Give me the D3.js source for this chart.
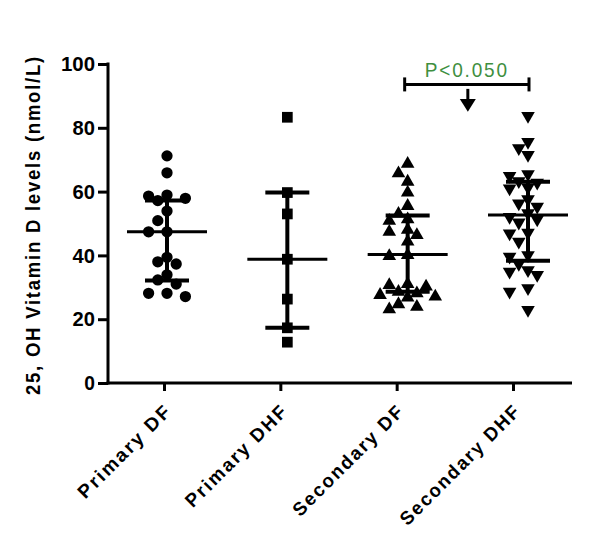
<!DOCTYPE html>
<html><head><meta charset="utf-8">
<script src="https://cdn.jsdelivr.net/npm/d3@7"></script>
<style>
html,body{margin:0;padding:0;background:#fff;}
svg text{font-family:"Liberation Sans",Arial,sans-serif;}
</style></head>
<body><svg id="chart" width="600" height="548"></svg>
<script>
const categories = ["Primary DF","Primary DHF","Secondary DF","Secondary DHF"];
const primaryDF = [71.2,65.9,58.9,58.6,57.9,57.2,53.9,50.9,47.4,47.4,39.4,38.0,37.3,33.9,32.3,31.0,28.1,28.1,27.1];
const primaryDHF = [83.3,59.7,53.0,38.8,26.3,17.3,12.8];
const secondaryDF = [68.7,65.7,63.1,59.7,55.5,53.0,51.3,50.8,48.0,47.4,46.4,44.3,40.1,39.8,31.0,30.7,30.2,28.6,28.1,27.6,27.1,26.8,24.7,23.9,23.1];
const secondaryDHF = [83.7,75.6,73.6,71.5,65.5,64.9,63.3,62.8,61.3,61.0,57.6,56.3,55.3,53.2,52.1,51.3,50.3,47.1,46.9,44.3,40.1,39.6,37.3,35.4,34.9,33.9,29.7,28.6,22.9];
const medians = [47.4,38.8,40.3,52.7];
const lowerBars = [32.1,17.3,28.6,38.3];
const upperBars = [57.2,59.7,52.5,63.1];
const yTicks = [0,20,40,60,80,100];
const yTitle = "25, OH Vitamin D levels (nmol/L)";
const pLabel = "P<0.050";
const series = [primaryDF, primaryDHF, secondaryDF, secondaryDHF];

const svg = d3.select("#chart");
const y = d3.scaleLinear().domain([0,100]).range([383,64]);
const xAxisScale = d3.scalePoint().domain(categories).range([164,513]);
const xMarks = d3.scalePoint().domain(categories).range([167,528]);

const symbols = [
  {type:d3.symbolCircle,size:100,rot:0},
  {type:d3.symbolSquare,size:115,rot:0},
  {type:d3.symbolTriangle,size:80,rot:0},
  {type:d3.symbolTriangle,size:80,rot:180}
];

// simple beeswarm layout
function swarm(vals, cx){
  const step = 9.2, minD = 10;
  const sorted = vals.slice().sort((a,b)=>b-a);
  const placed = [];
  const cand = [0,-1,1,-2,2,-3,3,-4,4];
  sorted.forEach(v=>{
    const py = y(v);
    for(const k of cand){
      const px = cx + k*step;
      if(placed.every(p=>Math.hypot(p.x-px,p.y-py)>=minD)){placed.push({x:px,y:py});break;}
    }
  });
  return placed;
}

// points
series.forEach((vals,i)=>{
  const pts = swarm(vals, xMarks(categories[i]));
  const s = symbols[i];
  svg.append("g").selectAll("path").data(pts).join("path")
    .attr("d", d3.symbol().type(s.type).size(s.size))
    .attr("transform", d=>`translate(${d.x},${d.y}) rotate(${s.rot})`)
    .attr("fill","#000");
});

// medians and bars
const gb = svg.append("g").attr("stroke","#000");
categories.forEach((c,i)=>{
  const cx = xMarks(c);
  gb.append("line").attr("x1",cx).attr("x2",cx).attr("y1",y(upperBars[i])).attr("y2",y(lowerBars[i])).attr("stroke-width",4);
  [upperBars[i],lowerBars[i]].forEach(v=>{
    gb.append("line").attr("x1",cx-22).attr("x2",cx+22).attr("y1",y(v)).attr("y2",y(v)).attr("stroke-width",4);
  });
  gb.append("line").attr("x1",cx-40).attr("x2",cx+40).attr("y1",y(medians[i])).attr("y2",y(medians[i])).attr("stroke-width",3);
});

// y axis
const ya = svg.append("g").attr("transform","translate(108,0)")
  .call(d3.axisLeft(y).tickValues(yTicks).tickSize(10).tickPadding(3));
ya.select(".domain").remove();
ya.selectAll(".tick line").attr("stroke","#000").attr("stroke-width",3);
ya.selectAll(".tick text").attr("font-size",21).attr("fill","#000")
  .style("font-family","'Liberation Sans',Arial,sans-serif").style("font-weight","bold")
  .attr("textLength",function(d){return String(d).length*11.7-1;}).attr("lengthAdjust","spacingAndGlyphs");
svg.append("line").attr("x1",108).attr("x2",108).attr("y1",y(100)-1.5).attr("y2",y(0)+1.5).attr("stroke","#000").attr("stroke-width",3);

// x axis
const xa = svg.append("g").attr("transform","translate(0,383)")
  .call(d3.axisBottom(xAxisScale).tickSize(8).tickFormat(""));
xa.select(".domain").remove();
xa.selectAll(".tick line").attr("stroke","#000").attr("stroke-width",3);
svg.append("line").attr("x1",106.5).attr("x2",572).attr("y1",383).attr("y2",383).attr("stroke","#000").attr("stroke-width",3);
categories.forEach(c=>{
  svg.append("text").attr("transform",`translate(${xAxisScale(c)+9},${412}) rotate(-45)`)
    .attr("text-anchor","end").attr("font-size",19).style("font-weight","bold").attr("fill","#000")
    .attr("textLength",c.length*12.6-2).attr("lengthAdjust","spacingAndGlyphs")
    .attr("letter-spacing","2px").text(c);
});

// y title
svg.append("text").attr("transform",`translate(40,225) rotate(-90)`)
  .attr("text-anchor","middle").attr("font-size",21).style("font-weight","bold").attr("fill","#000")
  .attr("letter-spacing","2px").attr("textLength",340).attr("lengthAdjust","spacingAndGlyphs").text(yTitle);

// significance bracket
const x3 = xMarks(categories[2])-3, x4 = xMarks(categories[3])+1;
const by = y(93.6);
const gs = svg.append("g").attr("stroke","#000");
gs.append("line").attr("x1",x3).attr("x2",x4).attr("y1",by).attr("y2",by).attr("stroke-width",3);
gs.append("line").attr("x1",x3).attr("x2",x3).attr("y1",by-7).attr("y2",by+7).attr("stroke-width",3);
gs.append("line").attr("x1",x4).attr("x2",x4).attr("y1",by-7).attr("y2",by+7).attr("stroke-width",3);
svg.append("text").attr("x",(x3+x4)/2).attr("y",y(96.0)).attr("text-anchor","middle")
  .attr("font-size",21).style("font-weight","normal").attr("letter-spacing","2px")
  .attr("textLength",84).attr("lengthAdjust","spacingAndGlyphs").attr("fill","#3f8f3f").text(pLabel);
// arrow
const ax = (xMarks(categories[2])+xMarks(categories[3]))/2;
svg.append("line").attr("x1",ax).attr("x2",ax).attr("y1",y(92.2)).attr("y2",y(88.5)).attr("stroke","#000").attr("stroke-width",3);
svg.append("path").attr("d",`M${ax-8},${y(89)} L${ax+8},${y(89)} L${ax},${y(85)} Z`).attr("fill","#000");
</script></body></html>
